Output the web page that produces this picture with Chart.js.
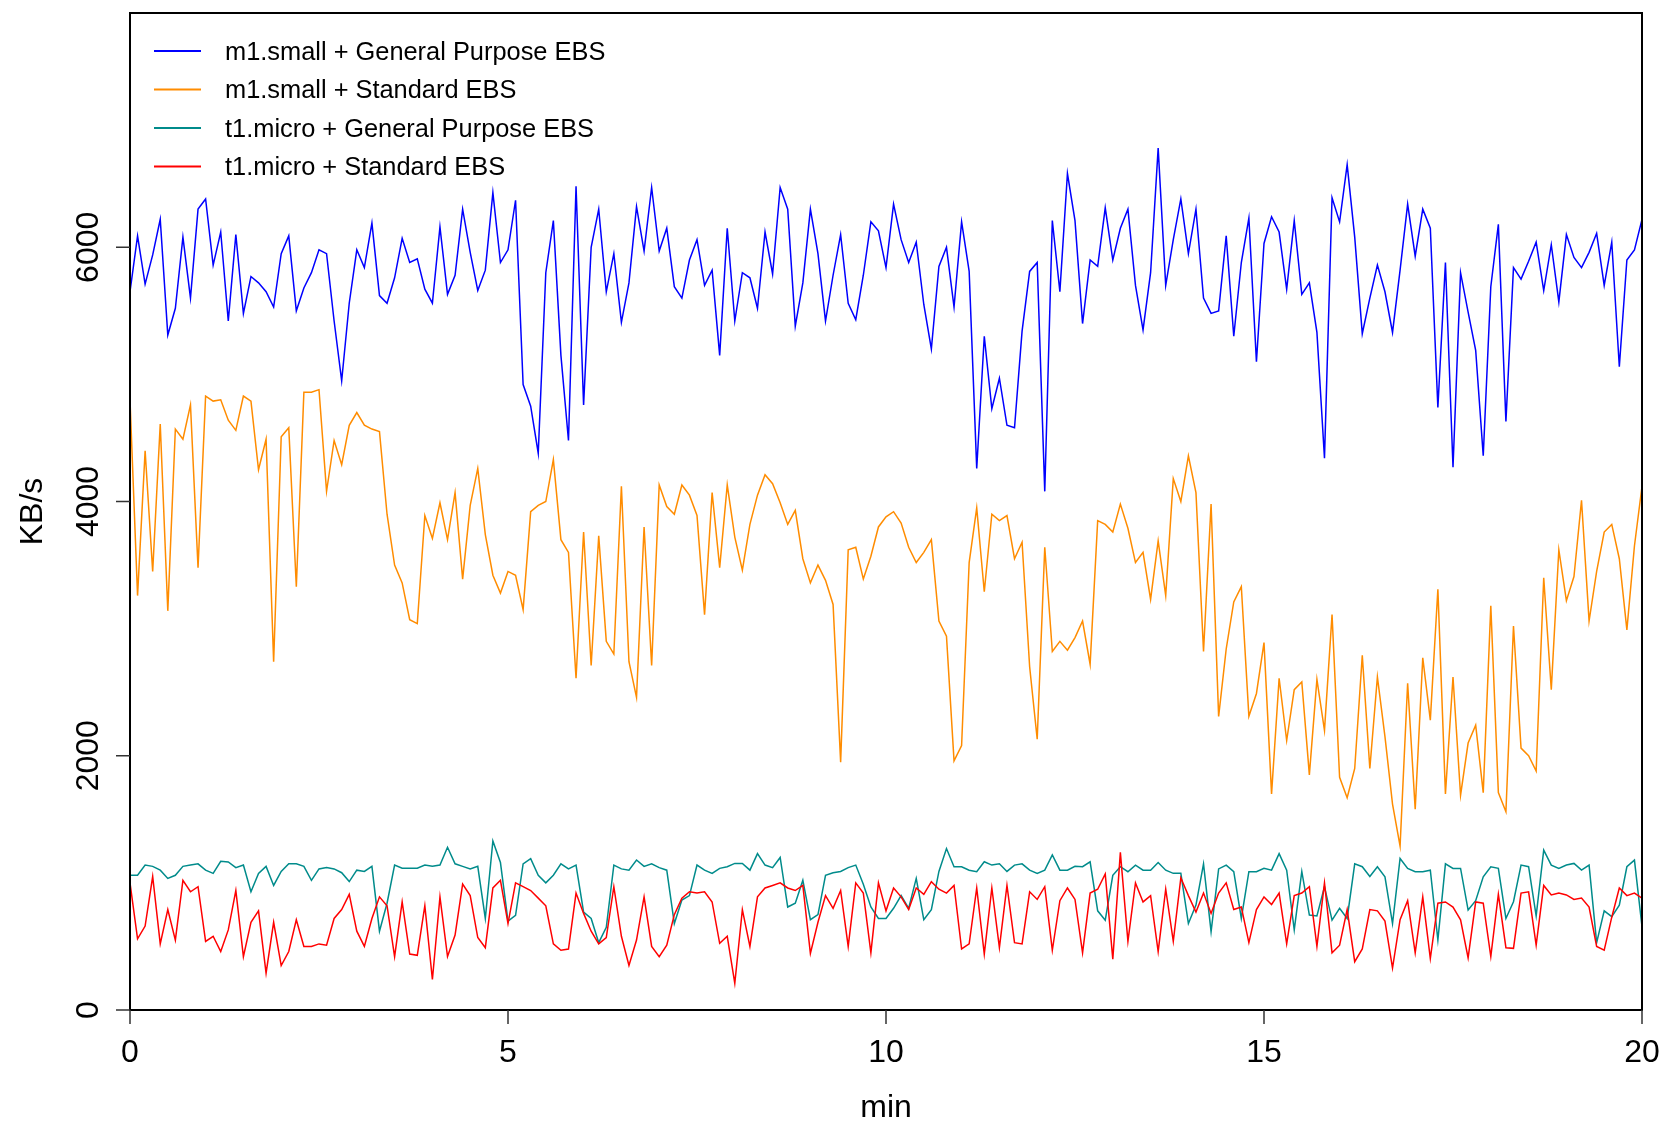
<!DOCTYPE html>
<html>
<head>
<meta charset="utf-8">
<script src="https://cdn.jsdelivr.net/npm/chart.js@4.4.1/dist/chart.umd.min.js"></script>
<style>
  html, body { margin: 0; padding: 0; background: #fff; }
  #wrap { width: 1662px; height: 1121px; }
</style>
</head>
<body>
<div id="wrap"><canvas id="myChart" width="1662" height="1121"></canvas></div>
<script>
// ---- data: throughput in KB/s, sampled every 0.1 min ----
const minutes = [
  0, 0.1, 0.2, 0.3, 0.4, 0.5, 0.6, 0.7, 0.8, 0.9,
  1, 1.1, 1.2, 1.3, 1.4, 1.5, 1.6, 1.7, 1.8, 1.9,
  2, 2.1, 2.2, 2.3, 2.4, 2.5, 2.6, 2.7, 2.8, 2.9,
  3, 3.1, 3.2, 3.3, 3.4, 3.5, 3.6, 3.7, 3.8, 3.9,
  4, 4.1, 4.2, 4.3, 4.4, 4.5, 4.6, 4.7, 4.8, 4.9,
  5, 5.1, 5.2, 5.3, 5.4, 5.5, 5.6, 5.7, 5.8, 5.9,
  6, 6.1, 6.2, 6.3, 6.4, 6.5, 6.6, 6.7, 6.8, 6.9,
  7, 7.1, 7.2, 7.3, 7.4, 7.5, 7.6, 7.7, 7.8, 7.9,
  8, 8.1, 8.2, 8.3, 8.4, 8.5, 8.6, 8.7, 8.8, 8.9,
  9, 9.1, 9.2, 9.3, 9.4, 9.5, 9.6, 9.7, 9.8, 9.9,
  10, 10.1, 10.2, 10.3, 10.4, 10.5, 10.6, 10.7, 10.8, 10.9,
  11, 11.1, 11.2, 11.3, 11.4, 11.5, 11.6, 11.7, 11.8, 11.9,
  12, 12.1, 12.2, 12.3, 12.4, 12.5, 12.6, 12.7, 12.8, 12.9,
  13, 13.1, 13.2, 13.3, 13.4, 13.5, 13.6, 13.7, 13.8, 13.9,
  14, 14.1, 14.2, 14.3, 14.4, 14.5, 14.6, 14.7, 14.8, 14.9,
  15, 15.1, 15.2, 15.3, 15.4, 15.5, 15.6, 15.7, 15.8, 15.9,
  16, 16.1, 16.2, 16.3, 16.4, 16.5, 16.6, 16.7, 16.8, 16.9,
  17, 17.1, 17.2, 17.3, 17.4, 17.5, 17.6, 17.7, 17.8, 17.9,
  18, 18.1, 18.2, 18.3, 18.4, 18.5, 18.6, 18.7, 18.8, 18.9,
  19, 19.1, 19.2, 19.3, 19.4, 19.5, 19.6, 19.7, 19.8, 19.9,
  20
];

const m1GeneralPurpose = [
  5650, 6090, 5710, 5940, 6220, 5310, 5520, 6080, 5600, 6300,
  6380, 5860, 6120, 5420, 6100, 5480, 5770, 5720, 5650, 5530,
  5950, 6090, 5500, 5680, 5800, 5980, 5950, 5420, 4950, 5560,
  5980, 5840, 6190, 5620, 5560, 5760, 6070, 5880, 5910, 5670,
  5560, 6160, 5630, 5780, 6300, 5960, 5660, 5820, 6430, 5880,
  5980, 6370, 4920, 4750, 4380, 5800, 6210, 5150, 4480, 6480,
  4760, 6000, 6300, 5650, 5950, 5410, 5720, 6320, 5970, 6470,
  5970, 6150, 5690, 5600, 5900, 6060, 5700, 5820, 5150, 6150,
  5420, 5800, 5760, 5520, 6120, 5790, 6470, 6300, 5380, 5720,
  6300, 5950, 5420, 5780, 6100, 5560, 5430, 5780, 6200, 6130,
  5840, 6340, 6060, 5880, 6040, 5550, 5200, 5850, 6000, 5530,
  6200, 5810, 4260, 5300, 4730, 4970, 4600, 4580, 5340, 5810,
  5880, 4080, 6210, 5650, 6580, 6210, 5400, 5900, 5850, 6310,
  5900, 6150, 6300, 5700, 5350, 5800, 6780, 5700, 6060, 6380,
  5950, 6300, 5600, 5480, 5500, 6090, 5300, 5880, 6230, 5100,
  6030, 6240, 6120, 5670, 6210, 5630, 5720, 5330, 4340, 6390,
  6200, 6650, 6080, 5320, 5600, 5860, 5650, 5330, 5820, 6340,
  5930, 6300, 6150, 4740, 5880, 4270, 5800, 5490, 5190, 4360,
  5690, 6180, 4630, 5840, 5750, 5890, 6040, 5660, 6020, 5570,
  6100, 5920, 5840, 5960, 6110, 5700, 6040, 5060, 5900, 5980,
  6220
];

const m1Standard = [
  4800, 3260, 4400, 3450, 4610, 3140, 4570, 4490, 4760, 3480,
  4830, 4790, 4800, 4640, 4560, 4830, 4790, 4250, 4490, 2740,
  4510, 4580, 3330, 4860, 4860, 4880, 4080, 4480, 4290, 4600,
  4700, 4600, 4570, 4550, 3900, 3500, 3360, 3070, 3040, 3890,
  3710, 3990, 3700, 4070, 3390, 3970, 4260, 3740, 3420, 3280,
  3450, 3420, 3150, 3920, 3970, 4000, 4330, 3700, 3600, 2610,
  3760, 2710, 3730, 2900, 2800, 4120, 2740, 2460, 3800, 2710,
  4130, 3960, 3900, 4130, 4050, 3890, 3110, 4070, 3480, 4130,
  3720, 3460, 3820, 4050, 4210, 4140, 3990, 3820, 3930, 3550,
  3360, 3500, 3380, 3190, 1950, 3620, 3640, 3390, 3570, 3800,
  3880, 3920, 3830, 3640, 3520, 3600, 3700, 3060, 2940, 1960,
  2080, 3520, 3950, 3290, 3900, 3850, 3890, 3550, 3680, 2700,
  2130, 3640, 2820, 2900, 2830, 2930, 3060, 2720, 3850, 3820,
  3760, 3980, 3790, 3520, 3600, 3230, 3690, 3260, 4180, 4000,
  4360, 4070, 2820, 3980, 2310, 2840, 3210, 3330, 2310, 2490,
  2890, 1700, 2610, 2120, 2520, 2580, 1850, 2600, 2200, 3110,
  1830, 1670, 1900, 2790, 1900, 2620, 2150, 1620, 1290, 2570,
  1580, 2770, 2280, 3310, 1700, 2620, 1690, 2100, 2240, 1710,
  3180, 1710, 1560, 3020, 2060, 2000, 1880, 3400, 2520, 3620,
  3220, 3410, 4010, 3060, 3450, 3760, 3820, 3550, 2990, 3650,
  4120
];

const t1GeneralPurpose = [
  1060, 1060, 1140, 1130, 1100, 1035, 1060, 1130, 1140, 1150,
  1100, 1075, 1170, 1165, 1120, 1140, 930, 1075, 1130, 980,
  1090, 1150, 1150, 1130, 1020, 1110, 1120, 1110, 1080, 1010,
  1100, 1090, 1130, 620, 840, 1140, 1115, 1115, 1115, 1140,
  1130, 1140, 1280, 1150, 1130, 1110, 1130, 720, 1330, 1160,
  700, 745, 1150, 1190, 1060, 1000, 1060, 1150, 1110, 1140,
  770, 720, 530, 650, 1140, 1110, 1100, 1180, 1130, 1150,
  1120, 1100, 680, 865, 900, 1140, 1100, 1075, 1114, 1127,
  1153, 1153, 1100, 1230, 1140, 1120, 1200, 810, 840, 1020,
  710, 750, 1060, 1080, 1090, 1120, 1140, 990, 810, 720,
  720, 800, 900, 800, 1035, 710, 790, 1090, 1270, 1127,
  1127, 1100, 1088, 1166, 1140, 1150, 1090, 1140, 1150, 1100,
  1075, 1100, 1220, 1100, 1100, 1130, 1127, 1166, 780, 707,
  1060, 1127, 1088, 1140, 1100, 1100, 1160, 1100, 1075, 1075,
  680, 825, 1150, 616, 1110, 1140, 1088, 720, 1088, 1088,
  1114, 1100, 1230, 1100, 630, 1090, 747, 740, 970, 707,
  800, 720, 1150, 1127, 1050, 1127, 1048, 680, 1192, 1114,
  1088, 1088, 1100, 550, 1150, 1114, 1114, 786, 860, 1048,
  1127, 1114, 720, 852, 1140, 1127, 740, 1258, 1140, 1114,
  1140, 1153, 1101, 1140, 530, 780, 735, 825, 1127, 1179,
  655
];

const t1Standard = [
  1000, 560, 660, 1050, 520, 790, 550, 1020, 930, 970,
  540, 580, 460, 630, 940, 420, 690, 780, 290, 690,
  350, 460, 710, 500, 500, 520, 510, 720, 790, 910,
  620, 500, 720, 890, 820, 420, 850, 440, 430, 820,
  240, 890, 420, 590, 990, 900, 570, 490, 960, 1020,
  680, 1000, 970, 940, 880, 820, 520, 470, 480, 920,
  760, 620, 520, 570, 970, 580, 350, 550, 890, 500,
  420, 510, 750, 880, 930, 920, 930, 850, 525, 580,
  210, 790, 500, 890, 960, 980, 1000, 960, 940, 980,
  445, 690, 900, 800, 940, 500, 1000, 920, 450, 1000,
  780, 960, 890, 790, 960, 910, 1010, 950, 920, 980,
  480, 520, 960, 440, 960, 490, 980, 530, 520, 930,
  870, 970, 470, 860, 960, 870, 450, 920, 950, 1070,
  400, 1240, 540, 1000, 850, 900, 460, 950, 540, 1040,
  900, 770, 920, 760, 920, 1000, 790, 810, 530, 790,
  890, 830, 920, 520, 900, 920, 970, 500, 1000, 450,
  510, 790, 380, 480, 790, 780, 700, 330, 710, 860,
  450, 890, 405, 840, 850, 810, 710, 410, 850, 840,
  420, 910, 490, 485, 920, 930, 510, 980, 905, 920,
  905, 870, 880, 810, 500, 470, 730, 960, 900, 920,
  880
];

const seriesNames = [
  "m1.small + General Purpose EBS",
  "m1.small + Standard EBS",
  "t1.micro + General Purpose EBS",
  "t1.micro + Standard EBS"
];
const seriesColors = ["#0000ff", "#ff8c00", "#008b8b", "#ff0000"];
const xTicks = [0, 5, 10, 15, 20];
const yTicks = [0, 2000, 4000, 6000];

// ---- R-style box, ticks, labels and legend ----
const axisFont = '32px "Liberation Sans", Arial, sans-serif';
const legendFont = '25.4px "Liberation Sans", Arial, sans-serif';

const rStyleAxes = {
  id: 'rStyleAxes',
  afterDraw(chart) {
    const { ctx, chartArea: a, scales: { x, y } } = chart;
    ctx.save();
    // box
    ctx.strokeStyle = '#000';
    ctx.lineWidth = 2;
    ctx.strokeRect(a.left, a.top, a.right - a.left, a.bottom - a.top);
    // tick marks
    ctx.strokeStyle = '#333';
    ctx.lineWidth = 1.5;
    ctx.beginPath();
    xTicks.forEach((v) => {
      const px = x.getPixelForValue(v);
      ctx.moveTo(px, a.bottom);
      ctx.lineTo(px, a.bottom + 14);
    });
    yTicks.forEach((v) => {
      const py = y.getPixelForValue(v);
      ctx.moveTo(a.left, py);
      ctx.lineTo(a.left - 14, py);
    });
    ctx.stroke();
    // tick labels + titles
    ctx.fillStyle = '#000';
    ctx.font = axisFont;
    ctx.textAlign = 'center';
    ctx.textBaseline = 'alphabetic';
    xTicks.forEach((v) => {
      ctx.fillText(String(v), x.getPixelForValue(v), a.bottom + 52);
    });
    ctx.fillText('min', (a.left + a.right) / 2, 1117);
    yTicks.forEach((v) => {
      ctx.save();
      ctx.translate(a.left - 32, y.getPixelForValue(v));
      ctx.rotate(-Math.PI / 2);
      ctx.fillText(String(v), 0, 0);
      ctx.restore();
    });
    ctx.save();
    ctx.translate(42, (a.top + a.bottom) / 2);
    ctx.rotate(-Math.PI / 2);
    ctx.fillText('KB/s', 0, 0);
    ctx.restore();
    // legend
    ctx.font = legendFont;
    ctx.textAlign = 'left';
    ctx.lineWidth = 2;
    seriesNames.forEach((name, i) => {
      const rowY = 51 + i * 38.5;
      ctx.strokeStyle = seriesColors[i];
      ctx.beginPath();
      ctx.moveTo(154, rowY);
      ctx.lineTo(201, rowY);
      ctx.stroke();
      ctx.fillStyle = '#000';
      ctx.fillText(name, 225, rowY + 8.7);
    });
    ctx.restore();
  }
};

const allSeries = [m1GeneralPurpose, m1Standard, t1GeneralPurpose, t1Standard];

const ctx = document.getElementById('myChart').getContext('2d');
const myChart = new Chart(ctx, {
  type: 'line',
  data: {
    datasets: allSeries.map((values, i) => ({
      label: seriesNames[i],
      data: minutes.map((m, j) => ({ x: m, y: values[j] })),
      borderColor: seriesColors[i],
      borderWidth: 1.5,
      pointRadius: 0,
      tension: 0,
      fill: false,
      order: 4 - i
    }))
  },
  options: {
    responsive: false,
    animation: false,
    devicePixelRatio: 1,
    layout: { padding: { left: 130, right: 20, top: 13, bottom: 111 } },
    plugins: { legend: { display: false }, tooltip: { enabled: false } },
    scales: {
      x: { type: 'linear', min: 0, max: 20, display: false },
      y: { type: 'linear', min: 0, max: 7843, display: false }
    }
  },
  plugins: [rStyleAxes]
});
</script>
</body>
</html>
